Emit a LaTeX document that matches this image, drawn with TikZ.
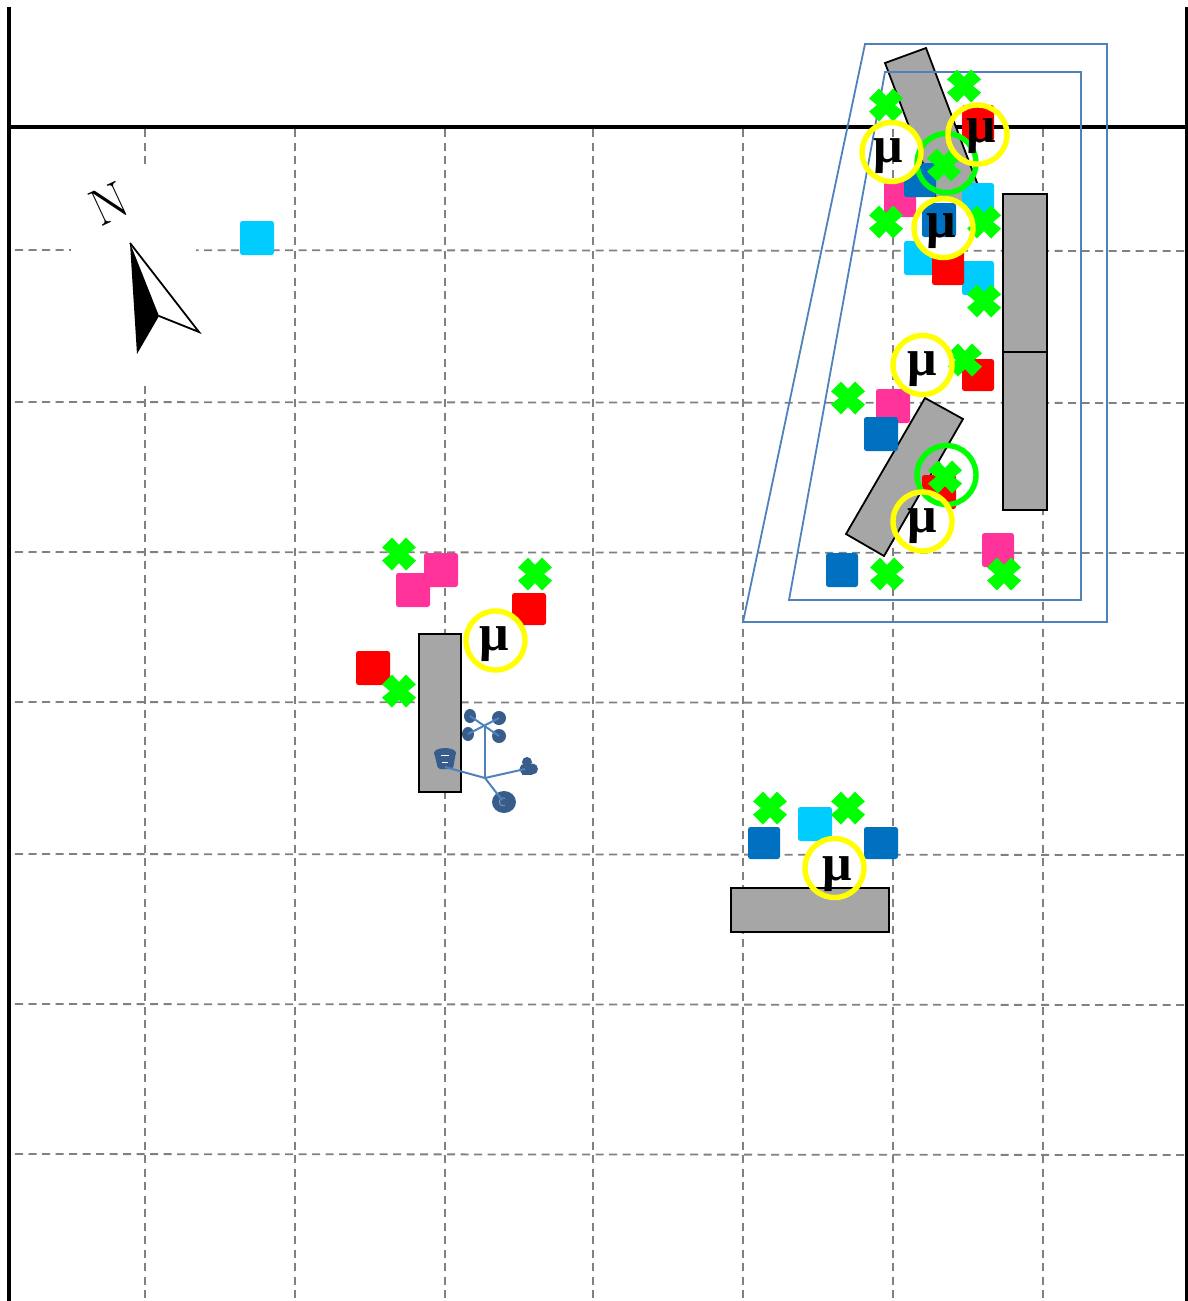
\documentclass[tikz,border=0pt]{standalone}
\usepackage{fontspec}
\newfontfamily\mufont{Liberation Serif}[Scale=1]
\definecolor{sqpink}{HTML}{FF3399}
\definecolor{sqred}{HTML}{FF0000}
\definecolor{sqcyan}{HTML}{00CCFF}
\definecolor{sqblue}{HTML}{0070C0}
\definecolor{xgreen}{HTML}{00FF00}
\definecolor{ringyellow}{HTML}{FFFF00}
\definecolor{barfill}{HTML}{A6A6A6}
\definecolor{gridgray}{HTML}{808080}
\definecolor{zoneblue}{HTML}{4F81BD}
\definecolor{icondark}{HTML}{385D8A}
\tikzset{
  gridline/.style={draw=gridgray,line width=1.8pt,dash pattern=on 8pt off 5.5pt},
  frameline/.style={draw=black,line width=3.6pt},
  wallbar/.style={draw=black,fill=barfill,line width=1.8pt},
  zone/.style={draw=zoneblue,line width=1.8pt,line join=miter},
  squarefill/.style={rounded corners=2.5pt},
  ringy/.style={draw=ringyellow,line width=5.4pt},
  ringg/.style={draw=xgreen,line width=5.4pt},
  whitedisc/.style={fill=white},
  mulabel/.style={anchor=base,inner sep=0pt,font=\mufont\bfseries\fontsize{52}{52}\selectfont},
  iconline/.style={draw=zoneblue,line width=2pt},
  icondot/.style={fill=icondark}
}
\newcommand{\mysq}[5]{\fill[squarefill,fill=#1] (#2,#3) rectangle (#4,#5);}
\newcommand{\mycross}[2]{\fill[xgreen,shift={(#1,#2)}] (0,-9) -- (7,-16.5) -- (17,-6.5) -- (9,0) -- (17,6.5) -- (7,16.5) -- (0,9) -- (-7,16.5) -- (-17,6.5) -- (-9,0) -- (-17,-6.5) -- (-7,-16.5) -- cycle;}
\newcommand{\mydisc}[2]{\fill[whitedisc] (#1,#2) circle (29.5);}
\newcommand{\myring}[2]{\draw[ringy] (#1,#2) circle (29.5);}
\newcommand{\mygring}[2]{\draw[ringg] (#1,#2) circle (29.5);}
\newcommand{\mybarlow}{\draw[wallbar] (925,398) -- (963,419) -- (884,556) -- (846,534) -- cycle;}
\begin{document}
\begin{tikzpicture}[x=1pt,y=-1pt]
\useasboundingbox (0,0) rectangle (1188,1301);
\fill[white] (0,0) rectangle (1188,1301);
% grid
\foreach \gx in {145,295,445,593,743,893,1043}
  \draw[gridline] (\gx,129) -- (\gx,1299);
\foreach \gy in {250,402,552,702,854,1004,1154}
  \draw[gridline] (15,\gy) -- (1187,\gy+1);
% compass mask
\fill[white] (71,164) rectangle (196,380);
% frame
\draw[frameline] (8.8,7) -- (8.8,1301);
\draw[frameline] (1187.2,7) -- (1187.2,1301);
\draw[frameline] (7,127) -- (1187,127);
% compass
\fill[black] (130,243) -- (159,316) -- (137,354) -- cycle;
\draw[black,line width=1.8pt,line join=miter] (130,243) -- (199,332) -- (159,316);
\node[rotate=25,inner sep=0pt,font=\fontsize{52}{52}\selectfont] (north) at (109,204) {N};
% walls
\draw[wallbar] (885,63) -- (926,48) -- (982,196) -- (941,211) -- cycle;
\draw[wallbar] (1003,194) rectangle (1047,352);
\draw[wallbar] (1003,352) rectangle (1047,510);
\draw[wallbar] (419,634) rectangle (461,792);
\mybarlow
% squares
\mysq{sqcyan}{240}{221}{274}{255}
\mysq{sqred}{962}{105}{994}{141}
\mysq{sqpink}{884}{182}{916}{217}
\mysq{sqblue}{904}{163}{936}{197}
\mysq{sqcyan}{962}{183}{994}{217}
\mysq{sqcyan}{904}{241}{936}{275}
\mysq{sqcyan}{962}{261}{994}{295}
\mysq{sqred}{932}{251}{964}{285}
\mysq{sqred}{962}{359}{994}{391}
\mysq{sqpink}{876}{389}{910}{423}
\mysq{sqblue}{864}{417}{898}{451}
\mysq{sqred}{922}{475}{956}{509}
\mysq{sqblue}{826}{553}{858}{587}
\mysq{sqpink}{982}{533}{1014}{567}
\mysq{sqpink}{424}{553}{458}{587}
\mysq{sqpink}{396}{573}{430}{607}
\mysq{sqred}{512}{593}{546}{625}
\mysq{sqred}{356}{651}{390}{685}
\mysq{sqblue}{748}{827}{780}{859}
\mysq{sqcyan}{798}{807}{832}{841}
\mysq{sqblue}{864}{827}{898}{859}
% white discs
\mydisc{891.5}{152}
\mydisc{943.5}{228}
\mydisc{922.5}{365}
\mydisc{922.5}{521.5}
\mydisc{495.5}{640.5}
\mydisc{834.5}{868}
\mysq{sqblue}{922}{203}{956}{237}
\begin{scope}
  \clip (922.5,521.5) circle (29.5);
  \mybarlow
\end{scope}
\draw[gridline] (893,129) -- (893,181);
\draw[wallbar] (731,888) rectangle (889,932);
% zones
\draw[zone] (865,44) -- (1107,44) -- (1107,622) -- (743,622) -- cycle;
\draw[zone] (885,72) -- (1081,72) -- (1081,600) -- (789,600) -- cycle;
% crosses
\mycross{964}{86}
\mycross{886}{105}
\mycross{944}{165}
\mycross{886}{222}
\mycross{984}{222}
\mycross{984}{301}
\mycross{965}{360}
\mycross{848}{398}
\mycross{945}{477}
\mycross{887}{574}
\mycross{1004}{574}
\mycross{399}{554}
\mycross{535}{574}
\mycross{399}{691}
\mycross{770}{808}
\mycross{848}{808}
% rings
\mygring{946.5}{163}
\mygring{946.5}{475}
\myring{891.5}{152}
\myring{977.5}{134.5}
\myring{943.5}{228}
\myring{922.5}{365}
\myring{922.5}{521.5}
\myring{495.5}{640.5}
\myring{834.5}{868}
% mu labels
\node[mulabel] (m1) at (888,162) {μ};
\node[mulabel] (m2) at (981,142) {μ};
\node[mulabel] (m3) at (941,237) {μ};
\node[mulabel] (m4) at (922,375) {μ};
\node[mulabel] (m5) at (922,532) {μ};
\node[mulabel] (m6) at (494,650) {μ};
\node[mulabel] (m7) at (837,880) {μ};
% icon
\coordinate (hub) at (485,778);
\coordinate (fork) at (485,725);
\fill[icondot] (470,716) ellipse (6 and 7);
\fill[icondot] (468,734) ellipse (6 and 7);
\fill[icondot] (499,718) circle (7);
\fill[icondot] (499,736) circle (7);
\fill[icondot] (504,802) ellipse (12 and 11);
\fill[icondot] (527,762) circle (5);
\fill[icondot] (525,769) circle (5.5);
\fill[icondot] (532.5,769) circle (5.5);
\fill[icondot] (522,768) rectangle (532,774.5);
\fill[icondot,rounded corners=2pt] (434,752) -- (456,752) -- (453,769) -- (438,769) -- cycle;
\fill[icondot] (445,753) ellipse (11 and 5);
\draw[white,line width=1pt] (441,755) -- (449,755);
\draw[white,line width=0.8pt] (442,762) -- (448,762);
\node[text=zoneblue!70,inner sep=0pt,font=\sffamily\fontsize{12}{12}\selectfont] (clabel) at (502,802) {C};
\draw[iconline] (hub) -- (445,767);
\draw[iconline] (hub) -- (525,769);
\draw[iconline] (hub) -- (502,800);
\draw[iconline] (hub) -- (fork);
\draw[iconline] (470,716) -- (499,736);
\draw[iconline] (468,734) -- (499,718);
\end{tikzpicture}
\end{document}
